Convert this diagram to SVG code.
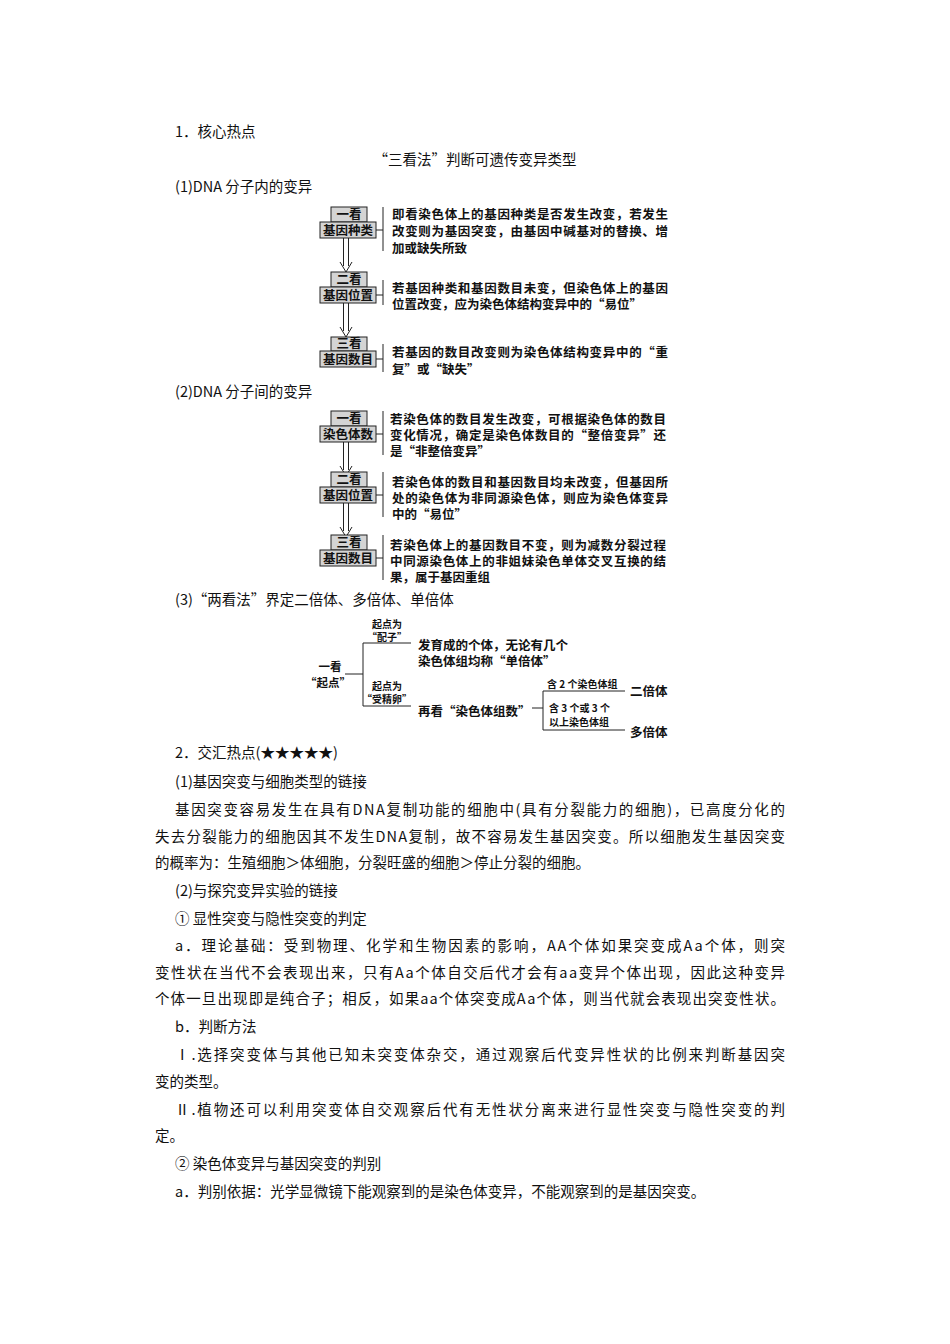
<svg xmlns="http://www.w3.org/2000/svg" width="950" height="1344" viewBox="0 0 950 1344">
<style>
text{font-family:"Noto Sans CJK SC","Liberation Serif",sans-serif;fill:#111}
.b{font-size:14.5px}
.d{font-size:12.5px;font-weight:bold}
.s{font-size:10px;font-weight:bold}
.bx{fill:#d4d4d4;stroke:#222;stroke-width:1}
.ln{fill:none;stroke:#222;stroke-width:1}
</style>
<rect width="950" height="1344" fill="#fff"/>
<g id="body">
<text class="b" x="175" y="137">1．核心热点</text>
<text class="b" x="475" y="165" text-anchor="middle">“三看法”判断可遗传变异类型</text>
<text class="b" x="175" y="192">(1)DNA 分子内的变异</text>
<text class="b" x="175" y="397">(2)DNA 分子间的变异</text>
<text class="b" x="175" y="605">(3)“两看法”界定二倍体、多倍体、单倍体</text>
<text class="b" x="175" y="758">2．交汇热点(★★★★★)</text>
<text class="b" x="175" y="787">(1)基因突变与细胞类型的链接</text>
<text class="b" x="175" y="815" textLength="610">基因突变容易发生在具有DNA复制功能的细胞中(具有分裂能力的细胞)，已高度分化的</text>
<text class="b" x="155" y="842" textLength="630">失去分裂能力的细胞因其不发生DNA复制，故不容易发生基因突变。所以细胞发生基因突变</text>
<text class="b" x="155" y="868">的概率为：生殖细胞＞体细胞，分裂旺盛的细胞＞停止分裂的细胞。</text>
<text class="b" x="175" y="896">(2)与探究变异实验的链接</text>
<text class="b" x="175" y="924">① 显性突变与隐性突变的判定</text>
<text class="b" x="175" y="951" textLength="610">a．理论基础：受到物理、化学和生物因素的影响，AA个体如果突变成Aa个体，则突</text>
<text class="b" x="155" y="978" textLength="630">变性状在当代不会表现出来，只有Aa个体自交后代才会有aa变异个体出现，因此这种变异</text>
<text class="b" x="155" y="1004" textLength="630">个体一旦出现即是纯合子；相反，如果aa个体突变成Aa个体，则当代就会表现出突变性状。</text>
<text class="b" x="175" y="1032">b．判断方法</text>
<text class="b" x="175" y="1060" textLength="610">Ⅰ.选择突变体与其他已知未突变体杂交，通过观察后代变异性状的比例来判断基因突</text>
<text class="b" x="155" y="1087">变的类型。</text>
<text class="b" x="175" y="1115" textLength="610">Ⅱ.植物还可以利用突变体自交观察后代有无性状分离来进行显性突变与隐性突变的判</text>
<text class="b" x="155" y="1141">定。</text>
<text class="b" x="175" y="1169">② 染色体变异与基因突变的判别</text>
<text class="b" x="175" y="1197">a．判别依据：光学显微镜下能观察到的是染色体变异，不能观察到的是基因突变。</text>
</g>
<defs>
<g id="arr"><path class="ln" d="M-2.5,0 V28 M2.5,0 V28 M-6,24 L0,34 L6,24"/></g>
</defs>
<g id="connectors">
<use href="#arr" x="346" y="238"/>
<use href="#arr" x="346" y="303"/>
<use href="#arr" x="346" y="442"/>
<use href="#arr" x="346" y="503"/>
<path class="ln" d="M376,230 H383 M383,207 V251 M376,295 H383 M383,280 V305 M376,359 H383 M383,344 V372"/>
<path class="ln" d="M376,434 H383 M383,411 V455 M376,495 H383 M383,472 V517 M376,558 H383 M383,535 V580"/>
<path class="ln" d="M345,674 H363 M363,643 V706 M363,643 H411 M363,706 H411 M532,708 H543 M543,691 V730 M543,691 H625 M543,730 H625"/>
</g>
<g id="n1"><rect class="bx" x="331" y="207" width="36" height="15"/><text class="d" x="349" y="219" text-anchor="middle">一看</text><rect class="bx" x="320" y="222" width="56" height="16"/><text class="d" x="348" y="235" text-anchor="middle">基因种类</text>
<text class="d" x="392" y="219" textLength="276">即看染色体上的基因种类是否发生改变，若发生</text><text class="d" x="392" y="236" textLength="276">改变则为基因突变，由基因中碱基对的替换、增</text><text class="d" x="392" y="253">加或缺失所致</text></g>
<g id="n2"><rect class="bx" x="331" y="272" width="36" height="15"/><text class="d" x="349" y="284" text-anchor="middle">二看</text><rect class="bx" x="320" y="287" width="56" height="16"/><text class="d" x="348" y="300" text-anchor="middle">基因位置</text>
<text class="d" x="392" y="293" textLength="276">若基因种类和基因数目未变，但染色体上的基因</text><text class="d" x="392" y="309">位置改变，应为染色体结构变异中的“易位”</text></g>
<g id="n3"><rect class="bx" x="331" y="337" width="36" height="14"/><text class="d" x="349" y="348" text-anchor="middle">三看</text><rect class="bx" x="320" y="351" width="56" height="16"/><text class="d" x="348" y="364" text-anchor="middle">基因数目</text>
<text class="d" x="392" y="357" textLength="276">若基因的数目改变则为染色体结构变异中的“重</text><text class="d" x="392" y="374">复”或“缺失”</text></g>
<g id="n4"><rect class="bx" x="331" y="411" width="36" height="15"/><text class="d" x="349" y="423" text-anchor="middle">一看</text><rect class="bx" x="320" y="426" width="56" height="16"/><text class="d" x="348" y="439" text-anchor="middle">染色体数</text>
<text class="d" x="390" y="424" textLength="276">若染色体的数目发生改变，可根据染色体的数目</text><text class="d" x="390" y="440" textLength="276">变化情况，确定是染色体数目的“整倍变异”还</text><text class="d" x="390" y="456">是“非整倍变异”</text></g>
<g id="n5"><rect class="bx" x="331" y="472" width="36" height="15"/><text class="d" x="349" y="484" text-anchor="middle">二看</text><rect class="bx" x="320" y="487" width="56" height="16"/><text class="d" x="348" y="500" text-anchor="middle">基因位置</text>
<text class="d" x="392" y="487" textLength="276">若染色体的数目和基因数目均未改变，但基因所</text><text class="d" x="392" y="503" textLength="276">处的染色体为非同源染色体，则应为染色体变异</text><text class="d" x="392" y="519">中的“易位”</text></g>
<g id="n6"><rect class="bx" x="331" y="535" width="36" height="15"/><text class="d" x="349" y="547" text-anchor="middle">三看</text><rect class="bx" x="320" y="550" width="56" height="16"/><text class="d" x="348" y="563" text-anchor="middle">基因数目</text>
<text class="d" x="390" y="550" textLength="276">若染色体上的基因数目不变，则为减数分裂过程</text><text class="d" x="390" y="566" textLength="276">中同源染色体上的非姐妹染色单体交叉互换的结</text><text class="d" x="390" y="582">果，属于基因重组</text></g>
<g id="n7"><text class="s" x="330" y="671" text-anchor="middle" style="font-size:11.5px">一看</text><text class="s" x="328" y="687" text-anchor="middle" style="font-size:11.5px">“起点”</text></g>
<g id="n8"><text class="s" x="387" y="628" text-anchor="middle">起点为</text><text class="s" x="387" y="641" text-anchor="middle">“配子”</text>
<text class="d" x="418" y="650">发育成的个体，无论有几个</text><text class="d" x="418" y="666">染色体组均称“单倍体”</text></g>
<g id="n9"><text class="s" x="387" y="690" text-anchor="middle">起点为</text><text class="s" x="387" y="703" text-anchor="middle">“受精卵”</text>
<text class="d" x="418" y="716">再看“染色体组数”</text></g>
<g id="n10"><text class="s" x="547" y="688">含 2 个染色体组</text><text class="d" x="630" y="696">二倍体</text>
<text class="s" x="549" y="712">含 3 个或 3 个</text><text class="s" x="549" y="726">以上染色体组</text><text class="d" x="630" y="737">多倍体</text></g>
</svg>
